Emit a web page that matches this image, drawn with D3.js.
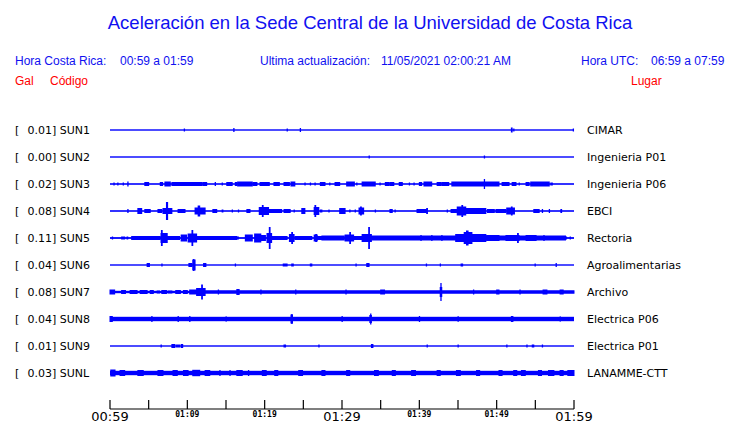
<!DOCTYPE html>
<html><head><meta charset="utf-8">
<script src="https://cdn.jsdelivr.net/npm/d3@7"></script>
<style>html,body{margin:0;padding:0;background:#fff}svg{display:block}</style>
</head><body>
<svg id="c" width="740" height="423"></svg>
<script>
// ---------- data ----------
const codes  = ["SUN1","SUN2","SUN3","SUN4","SUN5","SUN6","SUN7","SUN8","SUN9","SUNL"];
const gals   = ["0.01","0.00","0.02","0.08","0.11","0.04","0.08","0.04","0.01","0.03"];
const places = ["CIMAR","Ingenieria P01","Ingenieria P06","EBCI","Rectoria","Agroalimentarias","Archivo","Electrica P06","Electrica P01","LANAMME-CTT"];
// background noise amplitude (relative units)
const noise  = [0.7,0.7,0.8,0.8,0.9,0.7,1.2,2.2,0.7,2.2];
// bursts: [start minute, end minute, amplitude] (minutes after 00:59)
const sun1 = [[9.6,9.6,1.5],[16.0,16.0,2],[22.9,22.9,1.5],[24.6,24.6,2],[51.9,52.0,2.5],[52.2,52.2,1.5],[59.9,59.9,1.5]];
const sun2 = [[33.5,33.5,1.5],[48.4,48.4,1.5]];
const sun3 = [[0.5,0.5,1.5],[1.0,1.0,1.5],[1.7,1.7,1.5],[2.3,2.3,2.5],[4.5,5.0,2],[6.5,6.8,2],[7.1,7.8,2.5],[8.0,11.9,2],[12.0,12.5,2],[13.6,13.6,2],[14.5,14.5,1.5],[15.1,15.8,2],[16.2,16.4,2],[16.5,18.4,2.5],[18.5,19.0,2],[19.4,19.8,2],[19.7,20.6,2],[21.2,21.9,2],[22.5,23.2,2],[23.4,23.9,2.5],[25.2,25.2,1.5],[25.9,25.9,1.5],[26.5,26.5,1.5],[27.2,27.8,2],[28.4,28.4,1.5],[29.1,29.7,2],[30.6,31.6,2.5],[31.9,31.9,1.5],[32.6,34.3,2.5],[34.9,34.9,1.5],[35.6,36.1,2],[36.2,36.7,2],[37.4,37.8,2],[38.7,38.7,1.5],[39.3,39.3,1.5],[40.0,40.3,2],[40.6,41.6,2.5],[42.3,42.8,2],[42.9,43.8,2],[44.2,50.3,2.5],[48.4,48.4,5],[50.7,51.6,2],[52.0,52.5,2],[52.9,52.9,1.5],[53.8,54.2,2],[54.4,56.8,2.5],[57.0,57.2,1.5]];
const sun4 = [[2.3,2.3,2],[3.6,4.1,3],[4.5,5.2,2],[6.2,6.7,2],[6.85,8.0,3],[7.3,7.45,9],[8.8,9.7,2],[11.0,12.3,3.5],[11.4,11.6,5.5],[13.3,13.8,2],[14.5,14.6,1.5],[15.8,15.8,1.5],[16.6,16.6,1.5],[17.7,18.1,2],[19.3,20.5,4],[19.7,19.8,6],[20.6,22.2,2],[22.5,23.3,2],[23.8,23.8,1.5],[24.8,25.2,3],[26.4,27.0,4],[26.5,26.6,6],[27.2,27.4,1.5],[28.3,28.3,1.5],[29.7,30.4,3],[31.0,31.0,1.5],[31.7,31.7,1.5],[32.2,32.8,3.5],[32.4,32.5,4.5],[34.3,34.3,1.5],[36.2,36.5,2],[36.85,36.85,1.5],[39.7,40.1,2],[40.0,40.9,2],[40.95,41.05,3],[43.6,43.6,1.5],[44.1,44.8,2],[44.9,46.0,4.5],[45.5,45.6,6],[46.0,48.6,3],[48.8,49.7,2],[49.9,51.2,2],[51.3,52.3,3.5],[51.9,52.0,4.5],[54.8,55.5,2],[55.9,55.9,2],[56.8,56.8,2],[58.3,58.4,2]];
const sun5 = [[0.3,0.3,1.5],[1.5,1.9,1.5],[2.2,2.3,1.5],[2.8,5.4,2],[5.4,6.5,2],[6.6,7.4,5],[6.65,6.75,8],[7.4,9.0,2],[9.2,9.9,3.5],[10.1,11.2,4.5],[10.6,10.7,8],[11.2,14.9,2],[14.9,16.4,2],[16.5,16.6,1.5],[17.5,18.4,3.5],[18.7,19.5,4.5],[19.5,20.1,3],[20.3,20.9,5],[20.6,20.7,11],[20.9,22.9,2],[23.2,23.8,4],[23.5,23.6,6],[23.9,26.1,2],[26.4,26.8,3.5],[26.6,26.7,4],[26.8,27.4,2],[27.4,30.3,2.5],[30.4,31.5,3.5],[31.0,31.1,6],[31.6,32.6,2],[32.6,33.8,4],[33.45,33.55,11],[33.8,58.9,2.5],[40.2,40.2,3],[41.6,41.6,3],[42.9,42.9,3],[44.7,45.8,4],[45.8,46.8,6],[46.1,46.3,7.5],[46.8,48.6,4],[48.7,50.3,3],[51.2,52.9,3],[52.7,52.8,5],[53.8,55.1,3],[56.1,56.1,3],[59.0,59.0,1.5],[59.5,59.5,1.5]];
const sun6 = [[4.8,5.1,2],[6.7,6.7,1.5],[10.2,10.6,2],[10.7,11.0,5.5],[10.8,10.85,6],[12.1,12.4,2],[16.2,16.2,1.5],[22.4,22.9,1.5],[23.5,23.7,1.5],[25.9,26.1,1.5],[31.8,31.8,1.5],[33.2,33.5,2],[40.9,40.9,1.5],[42.7,42.7,1.5],[45.4,45.6,1.5],[54.96,54.96,1.5],[57.68,57.68,2]];
const sun7 = [[0,0.6,2.5],[1.5,2.0,2],[2.6,3.5,2],[3.9,4.8,2],[5.2,5.6,2],[6.1,6.4,1.5],[6.7,7.3,2],[7.5,8.0,1.5],[8.5,9.1,2],[9.5,10.0,2],[10.3,11.2,2.5],[11.2,12.3,4],[11.85,11.95,7.5],[12.3,60,1.7],[14.0,14.0,2.5],[16.4,16.7,3],[19.5,19.5,2.5],[24.0,24.0,2.5],[30.5,30.5,2.5],[35.0,35.5,2.5],[42.7,42.9,5],[42.78,42.82,9],[47.0,47.0,2.5],[50.0,50.3,2.5],[53.0,53.0,2.5],[56.0,56.5,2.5],[58.2,58.6,2.5]];
const sun8 = [[0,0.3,3],[5.4,5.4,3],[8.8,8.8,3],[10.3,10.3,3],[15.0,15.0,2.6],[23.4,23.6,4.5],[23.5,23.5,5],[30.0,30.0,3],[33.6,33.8,4],[33.7,33.7,5.5],[40.0,40.0,3],[45.0,45.0,2.8],[51.9,52.1,3],[58.2,58.2,2.6]];
const sun9 = [[6.6,6.6,1.5],[8.0,8.4,2],[8.6,9.0,1.5],[9.2,9.4,2],[22.5,22.7,1.5],[27.0,27.0,1.5],[33.8,34.0,2],[41.0,41.0,1.5],[45.0,45.0,1.5],[51.3,51.3,1.5],[53.9,53.9,1.5],[54.6,54.8,1.5],[55.9,55.9,1.5]];
const sunl = [[0.1,0.65,3.5],[1.3,1.9,3],[3.6,4.3,3],[6.2,6.85,3],[8.15,8.7,3],[9.5,10.1,3],[10.7,11.6,3.2],[12.3,12.9,3],[14.2,14.2,3],[15.5,15.5,3],[16.4,17.1,3],[17.9,17.9,3],[19.7,20.2,3],[21.3,21.7,3],[24.4,24.9,3],[27.4,27.8,3],[30.6,31.0,3],[34.2,34.7,3],[36.5,36.9,3],[39.0,39.5,3],[42.3,42.7,3],[44.8,45.3,3],[47.4,47.8,3],[50.3,50.7,3],[52.2,52.6,3],[53.2,53.7,3],[55.4,55.8,3],[56.7,57.4,3],[58.2,58.6,3],[59.2,60,3]];
const bursts = [sun1,sun2,sun3,sun4,sun5,sun6,sun7,sun8,sun9,sunl];
const tickMinutes = [0,5,10,15,20,25,30,35,40,45,50,55,60];
const labelMinutes = [0,10,20,30,40,50,60];
const tickLabels = ["00:59","01:09","01:19","01:29","01:39","01:49","01:59"];
const bigLabels = ["00:59","01:29","01:59"];

// ---------- drawing ----------
const svg = d3.select("#c");
const BLUE = "#0000ff", TBLUE = "#1010f0", RED = "#ff0000";
const x = d3.scaleLinear().domain([0,60]).range([110,574]);
const row = d3.scalePoint().domain(codes).range([130,373]);
const amp = d3.scaleLinear().domain([0,13]).range([0,13]);

const hdr = svg.append("g").attr("font-family","'Liberation Sans', Arial, sans-serif");
hdr.append("text").attr("x",370).attr("y",29).attr("text-anchor","middle")
  .attr("font-size",18.5).attr("fill",TBLUE)
  .text("Aceleración en la Sede Central de la Universidad de Costa Rica");
const h2 = [["Hora Costa Rica:",15],["00:59 a 01:59",120],["Ultima actualización:",260],["11/05/2021 02:00:21 AM",381],["Hora UTC:",581],["06:59 a 07:59",651]];
h2.forEach(d=>hdr.append("text").attr("x",d[1]).attr("y",64.5).attr("font-size",12).attr("fill",TBLUE).text(d[0]));
[["Gal",15],["Código",50],["Lugar",631]].forEach(d=>hdr.append("text").attr("x",d[1]).attr("y",85).attr("font-size",12).attr("fill",RED).text(d[0]));

const lab = svg.append("g").attr("font-family","'DejaVu Sans', sans-serif").attr("font-size",11).attr("fill","#000");
codes.forEach((c,i)=>{
  const y = row(c);
  lab.append("text").attr("x",15).attr("y",y+4).text("[");
  lab.append("text").attr("x",27.5).attr("y",y+4).text(gals[i]+"] "+c);
  lab.append("text").attr("x",587).attr("y",y+4).text(places[i]);
});

const tr = svg.append("g").attr("fill",BLUE);
codes.forEach((c,i)=>{
  const g = tr.append("g").attr("transform",`translate(0,${row(c)})`);
  g.append("rect").attr("x",x(0)).attr("width",x(60)-x(0))
    .attr("y",-amp(noise[i])).attr("height",2*amp(noise[i]));
  g.selectAll("rect.b").data(bursts[i]).join("rect").attr("class","b")
    .attr("x",d=>x(d[0])-0.5)
    .attr("width",d=>Math.max(1.3,x(d[1])-x(d[0])+1))
    .attr("y",d=>-amp(d[2]))
    .attr("height",d=>2*amp(d[2]));
});

// axis
const ax = svg.append("g").attr("stroke","#000").attr("stroke-width",1.2);
ax.append("line").attr("x1",x(0)).attr("x2",x(60)).attr("y1",409).attr("y2",409);
ax.selectAll("line.t").data(tickMinutes).join("line").attr("class","t")
  .attr("x1",d=>x(d)).attr("x2",d=>x(d)).attr("y1",400).attr("y2",409);
const tl = svg.append("g").attr("fill","#000").attr("text-anchor","middle");
labelMinutes.forEach((m,i)=>{
  const big = bigLabels.includes(tickLabels[i]);
  tl.append("text").attr("x",x(m)).attr("y",big?421:417)
    .attr("font-family",big?"'DejaVu Sans', sans-serif":"'DejaVu Sans Mono', monospace")
    .attr("font-weight",big?"normal":"bold")
    .attr("font-size",big?13:8).text(tickLabels[i]);
});
</script>
</body></html>
